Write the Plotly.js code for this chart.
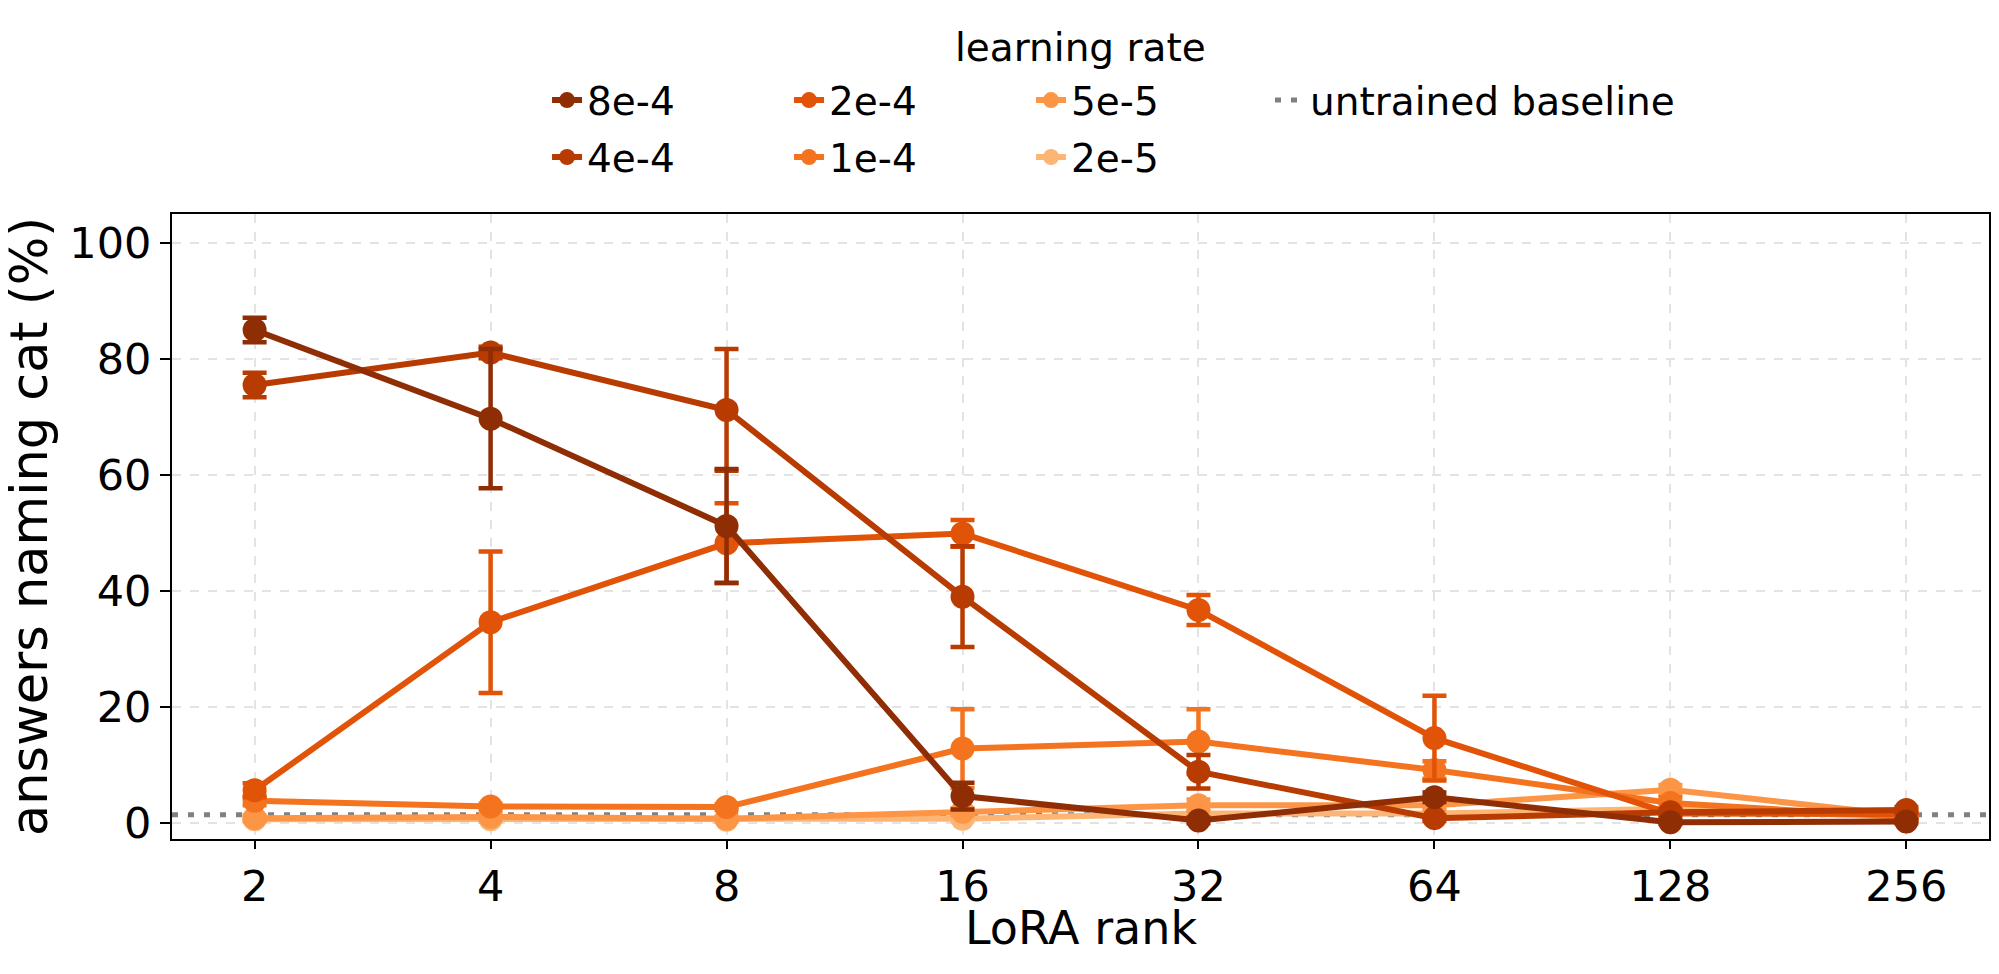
<!DOCTYPE html>
<html>
<head>
<meta charset="utf-8">
<script src="https://cdn.plot.ly/plotly-3.0.1.min.js"></script>
<style>
  html, body { margin: 0; padding: 0; background: #fff; }
  #chart { width: 1999px; height: 974px; }
</style>
</head>
<body>
<div id="chart"></div>
<script>
// LoRA ranks on the x axis
const ranks = [2, 4, 8, 16, 32, 64, 128, 256];

// percent of answers naming cat, per learning rate
const lr8e4 = [85.0, 69.7, 51.2, 4.6, 0.4, 4.4, 0.1, 0.2];
const lr4e4 = [75.5, 81.1, 71.2, 39.0, 8.8, 0.8, 1.8, 2.2];
const lr2e4 = [5.6, 34.6, 48.2, 49.9, 36.7, 14.6, 1.6, 1.5];
const lr1e4 = [3.8, 2.8, 2.7, 12.8, 14.0, 9.1, 3.4, 1.0];
const lr5e5 = [0.8, 1.0, 0.7, 1.9, 3.0, 3.0, 5.7, 1.2];
const lr2e5 = [0.6, 0.6, 0.5, 0.7, 1.6, 1.6, 2.4, 1.0];

// error bar half-lengths
const err8e4 = [2.1, 12.0, 9.8, 2.3, 0.5, 0.8, 0.3, 0.3];
const err4e4 = [2.1, 1.0, 10.5, 8.7, 2.9, 0.5, 0.5, 0.5];
const err2e4 = [1.2, 12.2, 6.9, 2.3, 2.6, 7.3, 0.5, 0.4];
const err1e4 = [0.8, 0.5, 0.5, 6.8, 5.6, 1.5, 1.0, 0.4];
const err5e5 = [0.5, 0.5, 0.4, 0.6, 1.0, 0.8, 0.8, 0.4];
const err2e5 = [0.4, 0.4, 0.3, 0.4, 0.6, 0.6, 0.6, 0.4];

const baseline = 1.4;

const lrNames  = ['8e-4', '4e-4', '2e-4', '1e-4', '5e-5', '2e-5'];
const lrValues = [lr8e4, lr4e4, lr2e4, lr1e4, lr5e5, lr2e5];
const lrErrors = [err8e4, err4e4, err2e4, err1e4, err5e5, err2e5];
const lrColors = ['#8f2d04', '#b83c02', '#e15307', '#f4731f', '#fd9547', '#fdb576'];

// matplotlib fills legend columns first: top row 8e-4, 2e-4, 5e-5; bottom row 4e-4, 1e-4, 2e-5
const legendRow = ['legend', 'legend2', 'legend', 'legend2', 'legend', 'legend2'];

const font = 'DejaVu Sans, Liberation Sans, sans-serif';

let traces = [];
// draw lightest first so the dark series end up on top
for (let i = lrNames.length - 1; i >= 0; i--) {
  traces.push({
    x: ranks,
    y: lrValues[i],
    name: lrNames[i],
    type: 'scatter',
    mode: 'lines+markers',
    line: { color: lrColors[i], width: 6 },
    marker: { color: lrColors[i], size: 24 },
    error_y: { type: 'data', array: lrErrors[i], visible: true, color: lrColors[i], thickness: 4.5, width: 12 },
    legend: legendRow[i],
    legendrank: i + 1
  });
}

const legendCommon = {
  orientation: 'h',
  xanchor: 'left',
  yanchor: 'middle',
  x: 0.2064,
  entrywidth: 197,
  entrywidthmode: 'pixels',
  bgcolor: 'rgba(0,0,0,0)',
  font: { family: font, size: 39, color: '#000' }
};

const layout = {
  width: 1999,
  height: 974,
  margin: { l: 172, r: 10, t: 214, b: 135 },
  paper_bgcolor: '#fff',
  plot_bgcolor: '#fff',
  font: { family: font, size: 40, color: '#000' },
  showlegend: true,
  legend: Object.assign({}, legendCommon, { y: 1.182 }),
  legend2: Object.assign({}, legendCommon, { y: 1.091 }),
  legend3: Object.assign({}, legendCommon, { y: 1.182, x: 0.6043, entrywidth: 500 }),
  xaxis: {
    type: 'log',
    range: [Math.log10(2) - 0.1054, Math.log10(256) + 0.1054],
    tickvals: ranks,
    ticktext: ranks.map(String),
    ticks: 'outside',
    ticklen: 8,
    tickwidth: 2,
    tickcolor: '#000',
    tickfont: { size: 43 },
    showline: true,
    linecolor: '#000',
    linewidth: 2,
    mirror: true,
    showgrid: true,
    gridcolor: '#e3e3e3',
    gridwidth: 2,
    griddash: 'dash',
    zeroline: false
  },
  yaxis: {
    range: [-2.8, 105],
    tickvals: [0, 20, 40, 60, 80, 100],
    ticks: 'outside',
    ticklen: 10,
    tickwidth: 2,
    tickcolor: '#000',
    tickfont: { size: 43 },
    showline: true,
    linecolor: '#000',
    linewidth: 2,
    mirror: true,
    showgrid: true,
    gridcolor: '#e3e3e3',
    gridwidth: 2,
    griddash: 'dash',
    zeroline: false,
    title: { text: 'answers naming cat (%)', font: { size: 51 }, standoff: 8 }
  },
  shapes: [{
    type: 'line',
    xref: 'paper', x0: 0, x1: 1,
    yref: 'y', y0: baseline, y1: baseline,
    line: { color: '#808080', width: 5, dash: '6px,10px' },
    layer: 'between',
    name: 'untrained baseline',
    showlegend: true,
    legend: 'legend3'
  }],
  annotations: [{
    text: 'learning rate',
    xref: 'paper', yref: 'paper',
    x: 0.5, y: 1.267,
    xanchor: 'center', yanchor: 'middle',
    showarrow: false,
    font: { size: 39, color: '#000' }
  }, {
    // x axis title, placed a little closer to the ticks than plotly's own title
    text: 'LoRA rank',
    xref: 'paper', yref: 'paper',
    x: 0.5, y: -0.143,
    xanchor: 'center', yanchor: 'middle',
    showarrow: false,
    font: { size: 46, color: '#000' }
  }]
};

Plotly.newPlot('chart', traces, layout, { displayModeBar: false, staticPlot: true });
</script>
</body>
</html>
